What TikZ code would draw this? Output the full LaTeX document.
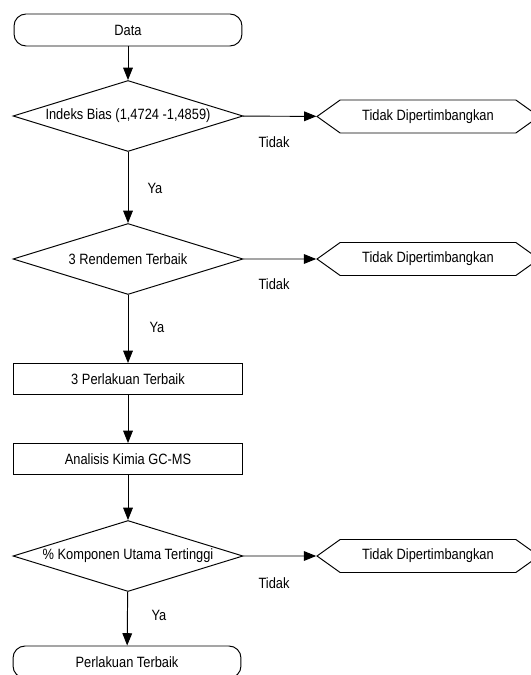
\documentclass[tikz,border=0pt]{standalone}
\usepackage{fontspec}
\setmainfont{Liberation Sans}[FakeStretch=0.86]
\usetikzlibrary{shapes.geometric, shapes.symbols, arrows.meta}

\begin{document}
\begin{tikzpicture}[x=0.02cm, y=-0.02cm, font=\fontsize{8.5}{10}\selectfont, line width=0.55pt]
\tikzstyle{terminal}=[draw, rectangle, rounded corners=2.4mm, minimum width=45.6mm, minimum height=6.4mm, inner sep=0pt]
\tikzstyle{decision}=[draw, diamond, aspect=3.2, minimum width=46mm, minimum height=14.2mm, inner sep=0pt]
\tikzstyle{process}=[draw, rectangle, minimum width=46mm, minimum height=6.2mm, inner sep=0pt]
\tikzstyle{reject}=[draw, signal, signal to=west and east, signal pointer angle=71, minimum width=44.4mm, minimum height=6.6mm, inner sep=0pt]
\tikzstyle{flow}=[-{Triangle[length=7pt, width=5.5pt]}]

\useasboundingbox (0,0) rectangle (530,675);

\node (data) at (128,30) [terminal] {Data};
\node (d1) at (128,116) [decision] {Indeks Bias (1,4724 -1,4859)};
\node (x1) at (428,116.5) [reject] {Tidak Dipertimbangkan};
\node (d2) at (128,259) [decision] {3 Rendemen Terbaik};
\node (x2) at (428,259) [reject] {Tidak Dipertimbangkan};
\node (p3) at (128,379) [process] {3 Perlakuan Terbaik};
\node (gc) at (128,459) [process] {Analisis Kimia GC-MS};
\node (d3) at (128,556) [decision] {\% Komponen Utama Tertinggi};
\node (x3) at (428,556) [reject] {Tidak Dipertimbangkan};
\node (best) at (127,662) [terminal] {Perlakuan Terbaik};

% labels on the branches
\node (t1) at (274,142) {Tidak};
\node (t2) at (274,284) {Tidak};
\node (t3) at (274,583) {Tidak};
\node (y1) at (155,188) {Ya};
\node (y2) at (157,327) {Ya};
\node (y3) at (159,615) {Ya};

\draw[flow] (data) -- (d1);
\draw[flow] (d1) -- (x1);
\draw[flow] (d1) -- (d2);
\draw[flow] (d2) -- (x2);
\draw[flow] (d2) -- (p3);
\draw[flow] (p3) -- (gc);
\draw[flow] (gc) -- (d3);
\draw[flow] (d3) -- (x3);
\draw[flow] (d3) -- (best);
\end{tikzpicture}
\end{document}
